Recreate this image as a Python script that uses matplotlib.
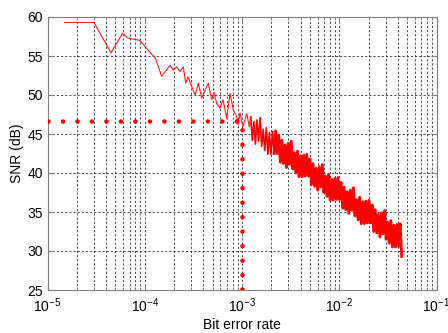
import numpy as np
import matplotlib
matplotlib.use("Agg")
import matplotlib.pyplot as plt
from matplotlib.ticker import LogLocator, FixedLocator

plt.rcParams['font.family'] = ['Liberation Sans', 'DejaVu Sans']
plt.rcParams['mathtext.fontset'] = 'custom'
plt.rcParams['mathtext.rm'] = 'Liberation Sans'
plt.rcParams['mathtext.it'] = 'Liberation Sans'

# ---- data ----
sparse_ber = [1.5e-5, 3.0e-5, 4.5e-5, 5.9e-5, 6.7e-5, 8.9e-5, 1.13e-4, 1.29e-4,
              1.49e-4, 1.82e-4, 1.97e-4, 2.13e-4, 2.30e-4, 2.49e-4, 2.64e-4,
              2.78e-4, 3.04e-4, 3.29e-4, 3.56e-4, 3.85e-4, 4.17e-4, 4.50e-4,
              4.88e-4, 5.15e-4, 5.49e-4, 5.94e-4, 6.38e-4, 6.96e-4, 7.53e-4,
              8.14e-4, 8.83e-4, 9.16e-4, 9.53e-4, 1.02e-3, 1.12e-3, 1.19e-3]
sparse_snr = [59.3, 59.3, 55.4, 57.9, 57.3, 57.0, 55.5, 54.7,
              52.4, 53.8, 53.2, 53.6, 53.0, 53.6, 51.5,
              52.3, 51.1, 50.0, 51.5, 49.6, 50.6, 51.5,
              49.4, 50.3, 48.9, 48.3, 49.4, 47.0, 50.2,
              48.1, 47.2, 46.2, 47.7, 45.9, 47.6, 45.9]

dense_log_ber = [-2.910, -2.894, -2.878, -2.862, -2.846, -2.830, -2.814, -2.798,
                 -2.782, -2.766, -2.750, -2.734, -2.718, -2.702, -2.686, -2.670,
                 -2.654, -2.638, -2.622, -2.606, -2.590, -2.574, -2.558, -2.542,
                 -2.526, -2.510, -2.494, -2.478, -2.462, -2.446, -2.430, -2.414,
                 -2.398, -2.382, -2.366, -2.350, -2.334, -2.318, -2.302, -2.286,
                 -2.270, -2.254, -2.238, -2.222, -2.206, -2.190, -2.174, -2.158,
                 -2.142, -2.126, -2.110, -2.094, -2.078, -2.062, -2.046, -2.030,
                 -2.014, -1.998, -1.982, -1.966, -1.950, -1.934, -1.918, -1.902,
                 -1.886, -1.870, -1.854, -1.838, -1.822, -1.806, -1.790, -1.774,
                 -1.758, -1.742, -1.726, -1.710, -1.694, -1.678, -1.662, -1.646,
                 -1.630, -1.614, -1.598, -1.582, -1.566, -1.550, -1.534, -1.518,
                 -1.502, -1.486, -1.470, -1.454, -1.438, -1.422, -1.406, -1.390,
                 -1.374, -1.358]
dense_snr = [47.2, 44.2, 46.6, 43.7, 46.8, 44.1, 47.1, 43.4, 45.6, 42.9,
             45.8, 42.4, 45.2, 42.4, 45.3, 42.5, 45.4, 42.5, 44.8, 41.4,
             44.2, 41.2, 43.6, 40.7, 43.8, 41.1, 44.1, 40.5, 42.6, 40.0,
             42.8, 39.5, 42.2, 39.5, 42.3, 39.6, 42.4, 39.6, 41.8, 38.5,
             41.2, 38.3, 40.6, 37.8, 40.8, 38.2, 41.1, 37.5, 39.6, 37.0,
             39.8, 36.5, 39.2, 36.5, 39.3, 36.6, 39.4, 36.6, 38.8, 35.5,
             38.2, 35.3, 37.6, 34.8, 37.8, 35.2, 38.1, 34.5, 36.6, 34.0,
             36.9, 33.5, 36.3, 33.5, 36.4, 33.6, 36.5, 33.6, 35.9, 32.5,
             35.3, 32.3, 34.7, 31.8, 34.9, 32.2, 35.2, 31.5, 33.7, 31.0,
             33.9, 30.5, 33.3, 30.5, 33.4, 30.6, 33.5, 29.3]

threshold_ber = 1e-3
threshold_snr = 46.7

x_range = [1e-5, 1e-1]
y_ticks = [25, 30, 35, 40, 45, 50, 55, 60]

# ---- figure ----
fig = plt.figure(figsize=(4.48, 3.33), dpi=100)
ax = fig.add_axes([47.5 / 448, 1 - 290 / 333, 389 / 448, 273 / 333])

dense_ber = 10 ** np.array(dense_log_ber)
ax.plot(sparse_ber + [dense_ber[0]], sparse_snr + [dense_snr[0]],
        color='#ff1a1a', lw=0.8, zorder=3)
ax.plot(dense_ber[:16], dense_snr[:16], color='#ff0000', lw=1.2, zorder=3)
ax.plot(dense_ber[15:], dense_snr[15:], color='#ff0000', lw=2.0, zorder=3)

ax.plot([x_range[0], threshold_ber, threshold_ber],
        [threshold_snr, threshold_snr, y_ticks[0]],
        color='#ff0000', lw=3.3, dashes=(0.01, 3.15),
        dash_capstyle='round', zorder=4)

ax.set_xscale('log')
ax.set_xlim(x_range)
ax.set_ylim(y_ticks[0], y_ticks[-1])
ax.yaxis.set_major_locator(FixedLocator(y_ticks))
ax.xaxis.set_major_locator(LogLocator(base=10, numticks=10))
ax.xaxis.set_minor_locator(LogLocator(base=10, subs=np.arange(2, 10), numticks=20))

grid_kw = dict(color='#222222', lw=0.6, linestyle=(0, (2.5, 2.5)))
ax.grid(True, which='major', axis='both', **grid_kw)
ax.grid(True, which='minor', axis='x', **grid_kw)
ax.set_axisbelow(True)

for s in ax.spines.values():
    s.set_color('#7f7f7f')
    s.set_linewidth(0.8)
ax.tick_params(which='both', direction='in', top=True, right=True,
               colors='#7f7f7f', labelcolor='black', labelsize=10)
ax.tick_params(which='major', length=4)
ax.tick_params(which='minor', length=2)
ax.tick_params(axis='x', pad=4.5)

ax.set_xlabel('Bit error rate', fontsize=10, labelpad=2)
ax.set_ylabel('SNR (dB)', fontsize=10, labelpad=2)

fig.savefig('out.png', dpi=100)
